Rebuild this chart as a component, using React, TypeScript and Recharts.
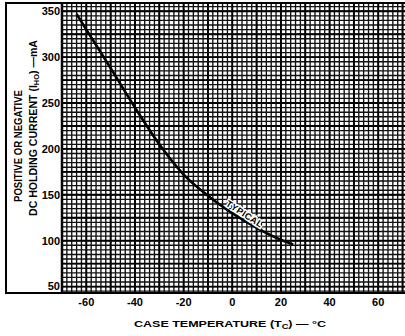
import React from 'react';
import { LineChart, Line, XAxis, YAxis, ReferenceLine, ReferenceDot, Label } from 'recharts';

// Case temperature (°C) vs DC holding current (mA), "TYPICAL" curve
const temperatures = [-64, -60, -50, -40, -30, -20, -10, 0, 10, 20, 25];
const holdingCurrent = [347, 330, 288, 245, 205, 172, 149, 130, 114, 101, 96];
const xTicks = [-60, -40, -20, 0, 20, 40, 60];
const yTicks = [50, 100, 150, 200, 250, 300, 350];
const curveNote = { temp: 5, current: 129, text: 'TYPICAL' };

const data = temperatures.map((t, i) => ({ t, ih: holdingCurrent[i] }));

// graph-paper rulings
const minorX: number[] = [];
for (let v = -70; v <= 70; v += 2) minorX.push(v);
const minorY: number[] = [];
for (let v = 45; v <= 355; v += 5) minorY.push(v);
const majorX: number[] = [];
for (let v = -70; v <= 70; v += 10) majorX.push(v);
const majorY: number[] = [];
for (let v = 50; v <= 350; v += 25) majorY.push(v);

const FONT = '"Liberation Sans", Arial, sans-serif';

const YTitle = () => (
  <g fontFamily={FONT} fontWeight="bold" fill="#000">
    <text
      transform="translate(22,146) rotate(-90)"
      textAnchor="middle"
      fontSize={10}
      textLength={112}
      lengthAdjust="spacingAndGlyphs"
    >
      POSITIVE OR NEGATIVE
    </text>
    <text
      transform="translate(37,128) rotate(-90)"
      textAnchor="middle"
      fontSize={10}
      textLength={176}
      lengthAdjust="spacingAndGlyphs"
    >
      DC HOLDING CURRENT (I<tspan dy={2} fontSize={7}>HO</tspan>
      <tspan dy={-2}>) —mA</tspan>
    </text>
  </g>
);

const XTitle = () => (
  <text
    x={230}
    y={327}
    textAnchor="middle"
    fontFamily={FONT}
    fontWeight="bold"
    fontSize={9.5}
    fill="#000"
    textLength={192}
    lengthAdjust="spacingAndGlyphs"
  >
    CASE TEMPERATURE (T<tspan dy={2} fontSize={7}>C</tspan>
    <tspan dy={-2}>) — °C</tspan>
  </text>
);

const NoteLabel = (props: any) => {
  const vb = props.viewBox || {};
  const cx = vb.x + (vb.width || 0) / 2;
  const cy = vb.y + (vb.height || 0) / 2;
  return (
    <text
      transform={`translate(${cx},${cy}) rotate(33)`}
      textAnchor="middle"
      dominantBaseline="central"
      fontFamily={FONT}
      fontWeight="bold"
      fontSize={9}
      fill="#000"
      stroke="#fff"
      strokeWidth={3}
      paintOrder="stroke"
      letterSpacing={0.5}
    >
      {curveNote.text}
    </text>
  );
};

export default function App() {
  return (
    <div style={{ position: 'absolute', left: 0, top: 0, width: 405, height: 336, overflow: 'hidden', background: '#fff' }}>
      <LineChart width={405} height={336} data={data} margin={{ top: 3, right: 0, bottom: 0, left: 0 }}>
        <XAxis
          dataKey="t"
          type="number"
          domain={[-70, 71]}
          ticks={xTicks}
          tickLine={false}
          tickSize={0}
          tickMargin={5}
          axisLine={{ stroke: '#000', strokeWidth: 2 }}
          height={43}
          tick={{ fill: '#000', fontSize: 11, fontWeight: 'bold', fontFamily: FONT }}
          allowDataOverflow
        >
          <Label content={<XTitle />} />
        </XAxis>
        <YAxis
          dataKey="ih"
          type="number"
          domain={[43, 359]}
          ticks={yTicks}
          tickLine={false}
          tickSize={0}
          tickMargin={2}
          axisLine={{ stroke: '#000', strokeWidth: 2.5 }}
          width={62}
          tick={{ fill: '#000', fontSize: 11, fontWeight: 'bold', fontFamily: FONT }}
          allowDataOverflow
        >
          <Label content={<YTitle />} />
        </YAxis>
        {minorX.map((v) => (
          <ReferenceLine key={'mx' + v} x={v} stroke="#111" strokeWidth={1.35} />
        ))}
        {minorY.map((v) => (
          <ReferenceLine key={'my' + v} y={v} stroke="#111" strokeWidth={1.35} />
        ))}
        {majorX.map((v) => (
          <ReferenceLine key={'Mx' + v} x={v} stroke="#000" strokeWidth={1.9} />
        ))}
        {majorY.map((v) => (
          <ReferenceLine key={'My' + v} y={v} stroke="#000" strokeWidth={1.9} />
        ))}
        <Line
          type="monotone"
          dataKey="ih"
          stroke="#000"
          strokeWidth={2.6}
          dot={false}
          isAnimationActive={false}
        />
        <ReferenceDot x={curveNote.temp} y={curveNote.current} r={0} stroke="none" fill="none" label={<NoteLabel />} />
      </LineChart>
      <div
        style={{
          position: 'absolute',
          left: 5,
          top: 2,
          width: 420,
          height: 292,
          border: '2px solid #000',
          boxSizing: 'border-box',
          pointerEvents: 'none',
        }}
      />
    </div>
  );
}
